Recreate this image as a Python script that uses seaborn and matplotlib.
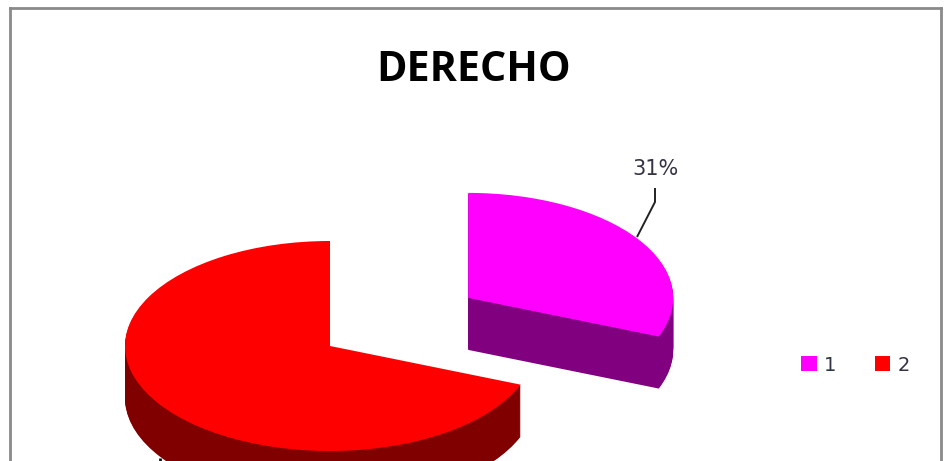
import matplotlib
matplotlib.use("Agg")
import matplotlib.pyplot as plt
import seaborn as sns

title = "DERECHO"
categories = ["1", "2"]
values = [31, 69]
top_colors = ["#FF00FF", "#FF0000"]
side_colors = ["#800080", "#800000"]

W, H = 945, 461
RX, RY = 205, 105        # pixel size of one pie radius on screen
CX, CY = 330, 346        # pie centre in pixels
DEPTH = 52
EXPLODE = [0.815, 0]

sns.set_theme(style="white")
plt.rcParams["font.family"] = ["DejaVu Sans"]

fig = plt.figure(figsize=(W / 100, H / 100), dpi=100, facecolor="white")

# chart frame (open at the bottom, cropped like the reference)
frame = fig.add_axes([10 / W, -0.1, 931 / W, (H - 8) / H + 0.1])
frame.set_xticks([]); frame.set_yticks([])
for side in ["top", "left", "right"]:
    frame.spines[side].set_color("#8a8a8a")
    frame.spines[side].set_linewidth(2)
sns.despine(ax=frame, top=False, left=False, right=False, bottom=True)

ax = fig.add_axes([0, 0, 1, 1], facecolor="none")

def px(x, y):
    return (x - CX) / RX, (CY - y) / RY

for d in range(DEPTH, 0, -1):
    ax.pie(values, colors=side_colors, startangle=90, counterclock=False,
           explode=EXPLODE, center=(0, -d / RY), radius=1,
           wedgeprops=dict(linewidth=0))
wedges, _ = ax.pie(values, colors=top_colors, startangle=90, counterclock=False,
                   explode=EXPLODE, center=(0, 0), radius=1,
                   wedgeprops=dict(linewidth=0))

ax.set_aspect("auto")
ax.set_xlim(px(0, 0)[0], px(W, 0)[0])
ax.set_ylim(px(0, H)[1], px(0, 0)[1])
ax.set_axis_off()

# leader line and data label
lx, ly = zip(px(637, 237), px(655, 202), px(655, 188))
ax.plot(lx, ly, color="#222222", lw=1.4, solid_capstyle="butt")
lab_x, lab_y = px(655.5, 169)
ax.text(lab_x, lab_y, f"{values[0] / sum(values) * 100:.0f}%", ha="center", va="center",
        fontsize=15, color="#333344", family="DejaVu Sans")

# top of the cropped leader of the other slice
sx, sy = zip(px(160, 458), px(160, 462))
ax.plot(sx, sy, color="#111111", lw=2, solid_capstyle="butt")

ax.text(*px(474, 70), title, ha="center", va="center", fontsize=29.7,
        fontweight="bold", family="Open Sans", color="#000000")

ax.legend(wedges, categories, ncol=2, frameon=False, loc="center left",
          bbox_to_anchor=(801 / W, 1 - 365 / H), fontsize=14,
          handlelength=0.8, handleheight=0.8, handletextpad=0.36,
          columnspacing=2.0, borderpad=0, borderaxespad=0, labelcolor="#333344")

fig.savefig("out.png", dpi=100, facecolor="white")
